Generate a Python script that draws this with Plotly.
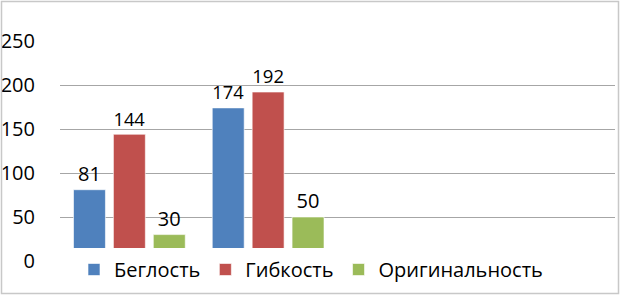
import plotly.graph_objects as go

categories = ["1", "2", "3", "4"]
series_names = ["Беглость", "Гибкость", "Оригинальность"]
beglost = [81, 174, None, None]
gibkost = [144, 192, None, None]
originalnost = [30, 50, None, None]
y_ticks = [0, 50, 100, 150, 200, 250]

colors = ["#4F81BD", "#C0504D", "#9BBB59"]
W, H = 624, 297
L, R, T, B = 60, 9, 41, 36
pw, ph = W - L - R, H - T - B


def px_x(p):
    return (p - L) / pw


def px_y(p):
    return (H - B - p) / ph


fig = go.Figure()
for name, vals, col in zip(series_names, [beglost, gibkost, originalnost], colors):
    fig.add_trace(go.Bar(
        x=categories, y=vals, name=name,
        marker=dict(color=col, line=dict(color="white", width=0.6)),
        text=[v if v is not None else "" for v in vals],
        textposition="outside", cliponaxis=False,
        textfont=dict(family="Open Sans", size=20, color="#000000"),
    ))

fig.update_layout(
    width=W, height=H,
    margin=dict(l=L, r=R, t=T, b=B, autoexpand=False),
    paper_bgcolor="white", plot_bgcolor="white",
    barmode="group", bargap=0.137, bargroupgap=0.2,
    font=dict(family="Open Sans", size=20, color="#000000"),
    showlegend=True,
    legend=dict(
        orientation="h", xref="container", yref="container",
        x=74 / W, xanchor="left",
        y=1 - 250 / H, yanchor="top",
        bgcolor="rgba(0,0,0,0)",
        font=dict(family="Open Sans", size=20, color="#000000"),
        itemclick=False,
    ),
    xaxis=dict(showticklabels=False, showgrid=False, zeroline=False,
               showline=False, ticks="", automargin=False),
    yaxis=dict(range=[0, 250], tickvals=y_ticks, showgrid=True,
               gridcolor="#A6A6A6", gridwidth=1, zeroline=False,
               showline=False, ticks="outside", ticklen=0,
               ticklabelstandoff=20, automargin=False,
               tickfont=dict(family="Open Sans", size=20, color="#000000")),
    shapes=[
        dict(type="rect", xref="paper", yref="paper",
             x0=px_x(60), x1=px_x(560), y0=px_y(290), y1=px_y(248),
             fillcolor="white", line=dict(width=0), layer="above"),
        dict(type="rect", xref="paper", yref="paper",
             x0=px_x(1.5), x1=px_x(618.5), y0=px_y(293.5), y1=px_y(1.5),
             line=dict(color="#C8C8C8", width=1.5), fillcolor="rgba(0,0,0,0)",
             layer="above"),
    ],
)

fig.write_html("out.html", config={"displayModeBar": False},
               post_script="document.body.style.margin='0';")
